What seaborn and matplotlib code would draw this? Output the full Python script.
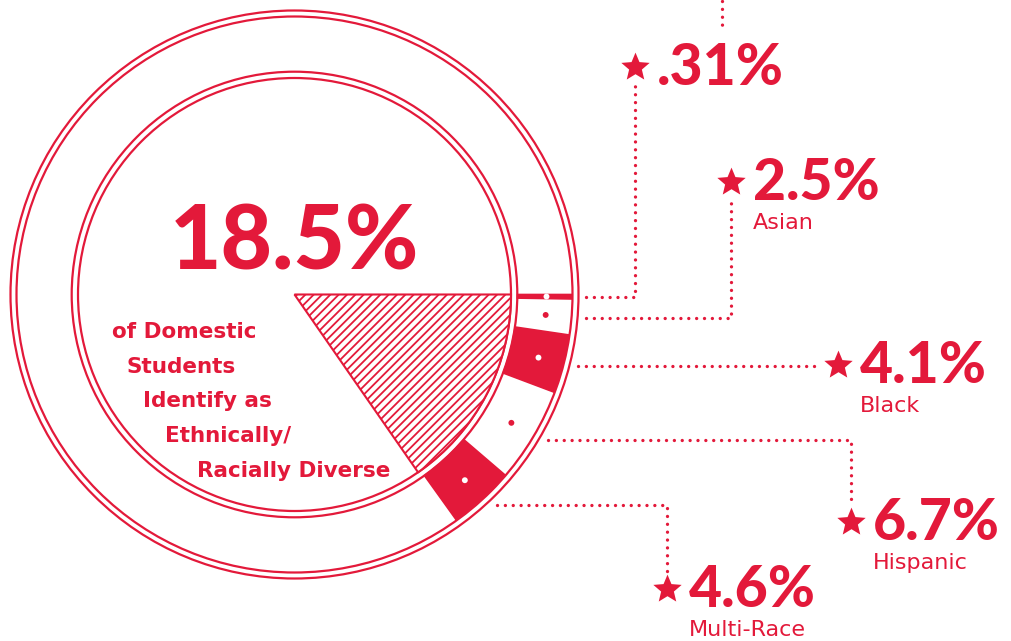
import numpy as np
import matplotlib
matplotlib.use("Agg")
import matplotlib.pyplot as plt
from matplotlib.patches import Wedge, Circle
from matplotlib.path import Path
import seaborn as sns

# ---- data ----
total_pct = 18.5
total_label = "18.5%"
caption_lines = ["of Domestic", "Students", "Identify as", "Ethnically/", "Racially Diverse"]
group_names = ["", "Asian", "Black", "Hispanic", "Multi-Race"]
group_pcts = [0.31, 2.5, 4.1, 6.7, 4.6]
group_labels = [".31%", "2.5%", "4.1%", "6.7%", "4.6%"]
group_filled = [True, False, True, False, True]

# ---- layout (pixel space, y down) ----
RED = "#E3193A"
cx, cy = 294.5, 294.5
deg_per_pct = 55.2 / total_pct
ring_in, ring_out = 223, 277
dot_r, lead_r, lead_start_r = 252, 285, 292
star_pos = [(635, 67), (731, 182), (838, 365), (851, 522), (667, 589)]
caption_x = [112, 127, 143, 165, 197]
caption_y = [338, 373, 407, 442, 477]
SMALL_FONT = ['DejaVu Sans']

# chunkier five-point star than the default '*' (markers are drawn in screen space)
ang = np.pi / 2 + np.arange(10) * np.pi / 5
rr = np.where(np.arange(10) % 2 == 0, 1.0, 0.45)
star_verts = np.column_stack([rr * np.cos(ang), rr * np.sin(ang)])
star_marker = Path(np.vstack([star_verts, star_verts[:1]]), closed=True)

sns.set_theme(style="white")
plt.rcParams['font.family'] = ['Lato', 'DejaVu Sans']
plt.rcParams['hatch.linewidth'] = 1.3

fig = plt.figure(figsize=(10.12, 6.41), dpi=100)
ax = fig.add_axes([0, 0, 1, 1])

# double circles
for r in [284, 278, 222.8, 216.5]:
    ax.add_patch(Circle((cx, cy), r, fill=False, ec=RED, lw=1.6))

# hatched wedge for the total share
ax.add_patch(Wedge((cx, cy), 216.5, 0, total_pct * deg_per_pct,
                   facecolor="white", edgecolor=RED, hatch="////", lw=1.5))

# ring segments
edges = np.concatenate([[0], np.cumsum(group_pcts)]) * deg_per_pct
mids = (edges[:-1] + edges[1:]) / 2
for t1, t2, filled in zip(edges[:-1], edges[1:], group_filled):
    if filled:
        ax.add_patch(Wedge((cx, cy), ring_out, t1, t2, width=ring_out - ring_in,
                           facecolor=RED, edgecolor=RED, lw=1.2))

rad = np.deg2rad(mids)
sns.scatterplot(x=cx + dot_r * np.cos(rad), y=cy + dot_r * np.sin(rad),
                hue=group_filled, palette={True: "white", False: RED},
                s=18, linewidth=0, legend=False, ax=ax, zorder=5)

# leader lines
dot_style = dict(color=RED, lw=2.4, ls=(0, (0.01, 2.35)), dash_capstyle="round")
for m, (sx, sy) in zip(mids, star_pos):
    yl = cy + lead_r * np.sin(np.deg2rad(m))
    x0 = cx + np.sqrt(lead_start_r ** 2 - (yl - cy) ** 2)
    if abs(sy - yl) < 10:
        ax.plot([x0, sx - 17], [yl, yl], **dot_style)
    else:
        step = 17 if sy < yl else -17
        ax.plot([x0, sx, sx], [yl, yl, sy + step], **dot_style)
# leader continuing off the top edge
ax.plot([722, 722], [1, 27], **dot_style)

sns.scatterplot(x=[p[0] for p in star_pos], y=[p[1] for p in star_pos],
                marker=star_marker, s=460, color=RED, linewidth=0,
                ax=ax, zorder=6)

for (sx, sy), lab, name in zip(star_pos, group_labels, group_names):
    ax.text(sx + 22, sy + 18, lab, color=RED, fontsize=41, fontweight="black",
            ha="left", va="baseline")
    if name:
        ax.text(sx + 22, sy + 47, name, color=RED, fontsize=16,
                family=SMALL_FONT, ha="left", va="baseline")

ax.text(cx, 270, total_label, color=RED, fontsize=64, fontweight="black",
        ha="center", va="baseline")
for line, x, y in zip(caption_lines, caption_x, caption_y):
    ax.text(x, y, line, color=RED, fontsize=15.5, fontweight="bold",
            family=SMALL_FONT, ha="left", va="baseline")

ax.set_xlim(0, 1012)
ax.set_ylim(641, 0)
ax.set_aspect("equal")
ax.axis("off")
fig.savefig("out.png", dpi=100)
